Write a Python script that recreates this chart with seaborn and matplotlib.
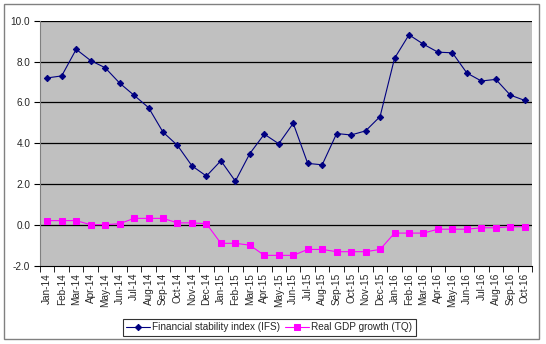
import matplotlib
matplotlib.use("Agg")
import matplotlib.pyplot as plt
import matplotlib.patches as mpatches
import numpy as np
import pandas as pd
import seaborn as sns

months = ["Jan-14","Feb-14","Mar-14","Apr-14","May-14","Jun-14","Jul-14","Aug-14","Sep-14","Oct-14","Nov-14","Dec-14",
          "Jan-15","Feb-15","Mar-15","Apr-15","May-15","Jun-15","Jul-15","Aug-15","Sep-15","Oct-15","Nov-15","Dec-15",
          "Jan-16","Feb-16","Mar-16","Apr-16","May-16","Jun-16","Jul-16","Aug-16","Sep-16","Oct-16"]
ifs = [7.2, 7.3, 8.6, 8.05, 7.7, 6.95, 6.35, 5.75, 4.55, 3.9, 2.9, 2.4,
       3.15, 2.15, 3.5, 4.45, 3.98, 4.98, 3.02, 2.95, 4.48, 4.41, 4.61, 5.31,
       8.16, 9.31, 8.85, 8.46, 8.43, 7.44, 7.05, 7.13, 6.36, 6.1]
gdp = [0.22, 0.22, 0.22, 0.02, 0.02, 0.07, 0.33, 0.33, 0.33, 0.11, 0.11, 0.07,
       -0.89, -0.89, -0.98, -1.48, -1.48, -1.48, -1.19, -1.19, -1.3, -1.3, -1.3, -1.19,
       -0.39, -0.39, -0.39, -0.2, -0.2, -0.2, -0.13, -0.13, -0.08, -0.08]
yticks = [-2.0, 0.0, 2.0, 4.0, 6.0, 8.0, 10.0]
label_ifs = "Financial stability index (IFS)"
label_gdp = "Real GDP growth (TQ)"

sns.set_style("white")
plt.rcParams['font.family'] = ['Liberation Sans', 'DejaVu Sans']

df = pd.DataFrame({"idx": np.arange(len(months)), "ifs": ifs, "gdp": gdp})

fig = plt.figure(figsize=(5.46, 3.44), dpi=100)
fig.patch.set_facecolor("white")
ax = fig.add_axes([40/546, 1-266/344, (532-40)/546, (266-20.7)/344])
ax.set_facecolor("#C0C0C0")

sns.lineplot(data=df, x="idx", y="ifs", ax=ax, color="#000080", marker="D", markersize=3.2,
             markeredgecolor="#000080", linewidth=0.8, label=label_ifs)
sns.lineplot(data=df, x="idx", y="gdp", ax=ax, color="#FF00FF", marker="s", markersize=4,
             markeredgecolor="#FF00FF", linewidth=0.8, label=label_gdp)

ax.set_xlim(-0.5, len(months) - 0.5)
ax.set_ylim(-2, 10)
ax.set_yticks(yticks)
ax.set_yticklabels([f"{v:.1f}" for v in yticks], fontsize=7.2)
for v in yticks[1:]:
    ax.axhline(v, color="black", linewidth=0.9, zorder=0.5)
ax.set_xticks(np.arange(len(months)))
ax.set_xticklabels(months, rotation=90, fontsize=7.2)
ax.set_xticks(np.arange(len(months) + 1) - 0.5, minor=True)
ax.tick_params(axis="x", which="major", length=0, pad=5)
ax.tick_params(axis="x", which="minor", length=4, direction="out", color="black", bottom=True)
ax.tick_params(axis="y", length=4, direction="out", color="black", left=True, pad=3)
ax.set_xlabel("")
ax.set_ylabel("")
for s in ["top", "right"]:
    ax.spines[s].set_visible(False)
ax.spines["left"].set_color("#808080")
ax.spines["bottom"].set_color("black")

leg = ax.legend(loc="center", bbox_to_anchor=(269/546, 1-327/344), bbox_transform=fig.transFigure,
                ncol=2, fontsize=7.2, frameon=True, fancybox=False, handlelength=2.4,
                columnspacing=0.5, handletextpad=0.2, borderpad=0.35, borderaxespad=0)
leg.get_frame().set_edgecolor("black")
leg.get_frame().set_linewidth(0.8)

fig.patches.append(mpatches.Rectangle((4/546, 1-339/344), 535/546, 335/344, transform=fig.transFigure,
                                      fill=False, edgecolor="#808080", linewidth=1))

fig.savefig("out.png", dpi=100)
